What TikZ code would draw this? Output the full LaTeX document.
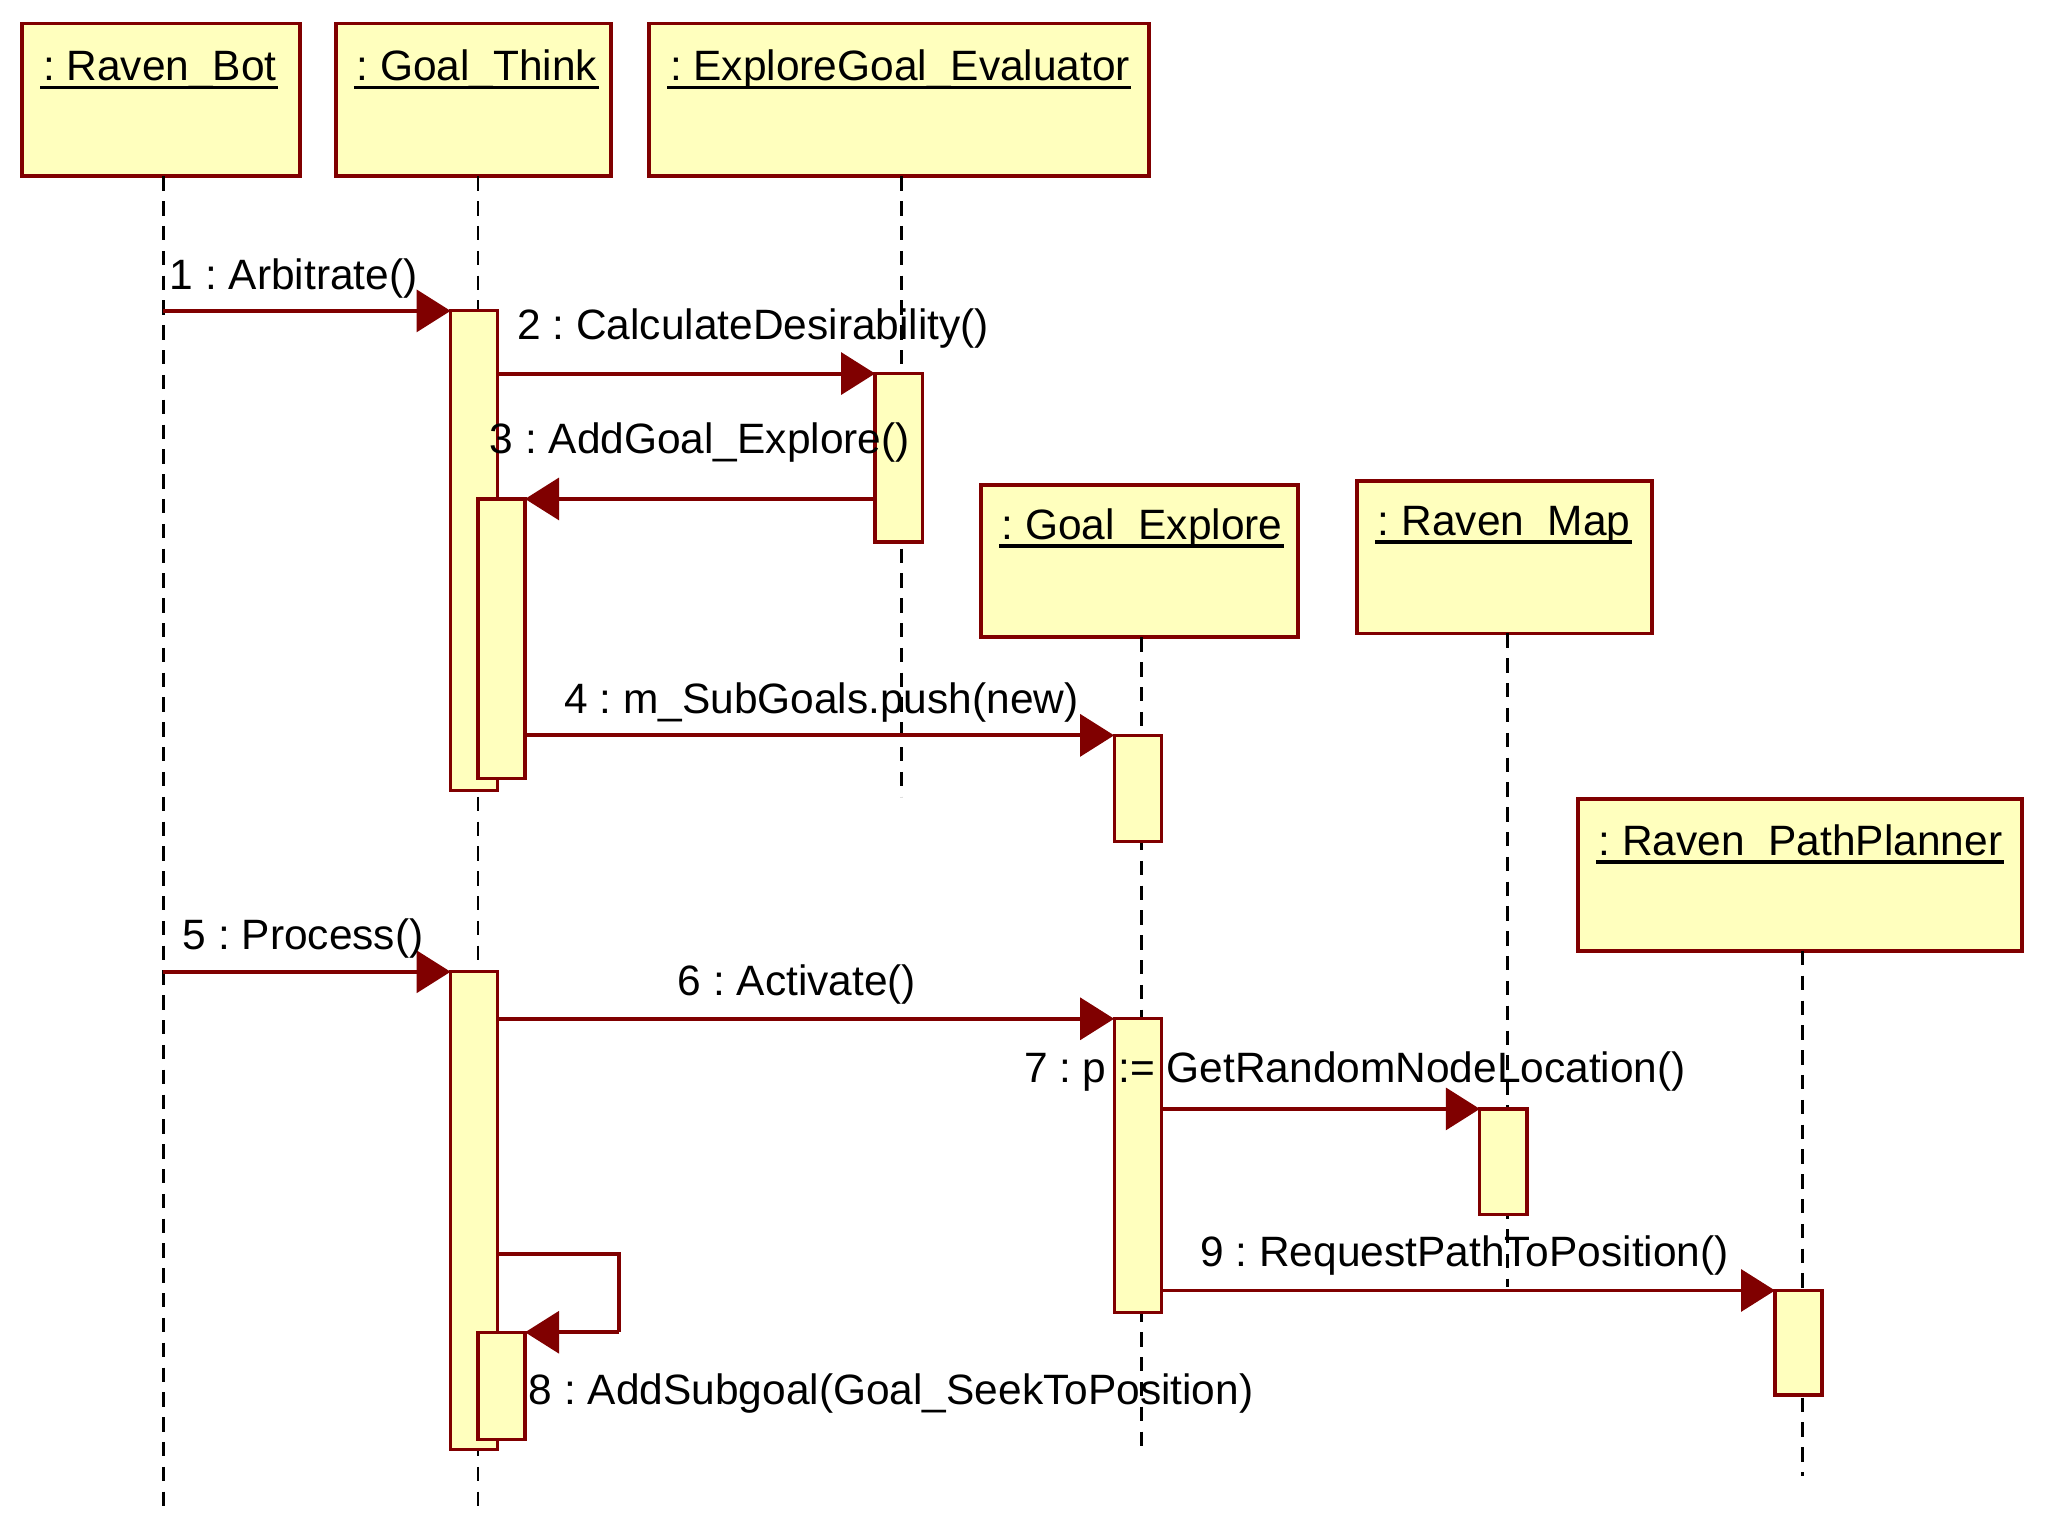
\documentclass[tikz,border=0pt]{standalone}
\usepackage{fontspec}
\setmainfont{Liberation Sans}
\usetikzlibrary{arrows.meta}
\definecolor{lineRed}{RGB}{128,0,0}
\definecolor{boxFill}{RGB}{255,255,190}
\begin{document}
\frenchspacing
\begin{tikzpicture}[x=1pt,y=-1pt,
  objbox/.style={draw=lineRed, line width=3pt, fill=boxFill, anchor=north west, inner sep=0pt, outer sep=0pt},
  actbar/.style={draw=lineRed, line width=2.5pt, fill=boxFill, anchor=north west, inner sep=0pt, outer sep=0pt, minimum width=36pt},
  life/.style={black, line width=2.2pt, dash pattern=on 11pt off 8pt},
  msg/.style={lineRed, line width=3pt, -{Triangle[length=26pt,width=32pt]}},
  lbl/.style={anchor=base west, inner sep=0pt, outer sep=0pt, font=\fontsize{32.5}{40}\selectfont\frenchspacing},
  ulbl/.style={black, line width=2.8pt}]
\useasboundingbox (0,0) rectangle (1568,1176);

% object boxes
\node[objbox, minimum width=213pt, minimum height=117pt] (bot) at (17,18) {};
\node[objbox, minimum width=211pt, minimum height=117pt] (think) at (257,18) {};
\node[objbox, minimum width=383pt, minimum height=117pt] (eval) at (497,18) {};
\node[objbox, minimum width=243pt, minimum height=117pt] (explore) at (751,371) {};
\node[objbox, minimum width=226pt, minimum height=117pt] (map) at (1039,368) {};
\node[objbox, minimum width=340pt, minimum height=116pt] (planner) at (1208,612) {};

% object labels
\node[lbl] (botL) at (33,62) {: Raven\_Bot};
\node[lbl] (thinkL) at (273,62) {: Goal\_Think};
\node[lbl] (evalL) at (513,62) {: ExploreGoal\_Evaluator};
\node[lbl] (exploreL) at (767,413) {: Goal\_Explore};
\node[lbl] (mapL) at (1055,410) {: Raven\_Map};
\node[lbl] (plannerL) at (1224,655) {: Raven\_PathPlanner};
\foreach \n in {botL,thinkL,evalL,exploreL,mapL,plannerL}
  \draw[ulbl] ([xshift=-2pt,yshift=-5pt]\n.base west) -- ([xshift=1pt,yshift=-5pt]\n.base east);

% lifelines
\draw[life] ([xshift=1.5pt]bot.south) -- ++(0,1023);
\draw[life] ([xshift=3.5pt]think.south) -- ++(0,1023);
\draw[life] ([xshift=1.5pt]eval.south) -- ++(0,475);
\draw[life] ([xshift=1.5pt]explore.south) -- ++(0,624);
\draw[life] ([xshift=2pt]map.south) -- ++(0,500);
\draw[life] ([xshift=2pt]planner.south) -- ++(0,402);

% activation bars
\node[actbar, minimum height=367pt] (gtA) at (345,238) {};
\node[actbar, minimum height=214pt] (gtB) at (366,382) {};
\node[actbar, minimum height=129pt] (evA) at (670,286) {};
\node[actbar, minimum height=81pt] (geA) at (853,563) {};
\node[actbar, minimum height=366pt] (gtC) at (345,744) {};
\node[actbar, minimum height=82pt] (gtD) at (366,1020) {};
\node[actbar, minimum height=225pt] (geB) at (853,780) {};
\node[actbar, minimum height=81pt] (rmA) at (1133,849) {};
\node[actbar, minimum height=80pt] (ppA) at (1359,988) {};

% messages
\coordinate (loop8) at (474,960);
\draw[msg] ([xshift=1.5pt]bot.south |- gtA.north west) -- (gtA.north west);
\draw[msg] (gtA.east |- evA.north west) -- (evA.north west);
\draw[msg] (evA.west |- gtB.north east) -- (gtB.north east);
\draw[msg] (gtB.east |- geA.north west) -- (geA.north west);
\draw[msg] ([xshift=1.5pt]bot.south |- gtC.north west) -- (gtC.north west);
\draw[msg] (gtC.east |- geB.north west) -- (geB.north west);
\draw[msg] (geB.east |- rmA.north west) -- (rmA.north west);
\draw[msg, -] (gtC.east |- loop8) -- (loop8) -- (loop8 |- gtD.north east);
\draw[msg] (loop8 |- gtD.north east) -- (gtD.north east);
\draw[msg] (geB.east |- ppA.north west) -- (ppA.north west);

% message labels
\node[lbl] (m1L) at (130,222) {1 : Arbitrate()};
\node[lbl] (m2L) at (396,260) {2 : CalculateDesirability()};
\node[lbl] (m3L) at (375,347) {3 : AddGoal\_Explore()};
\node[lbl] (m4L) at (432,546) {4 : m\_SubGoals.push(new)};
\node[lbl] (m5L) at (140,727) {5 : Process()};
\node[lbl] (m6L) at (519,762) {6 : Activate()};
\node[lbl] (m7L) at (784,829) {7 : p := GetRandomNodeLocation()};
\node[lbl] (m8L) at (405,1075) {8 : AddSubgoal(Goal\_SeekToPosition)};
\node[lbl] (m9L) at (919,970) {9 : RequestPathToPosition()};
\end{tikzpicture}
\end{document}
